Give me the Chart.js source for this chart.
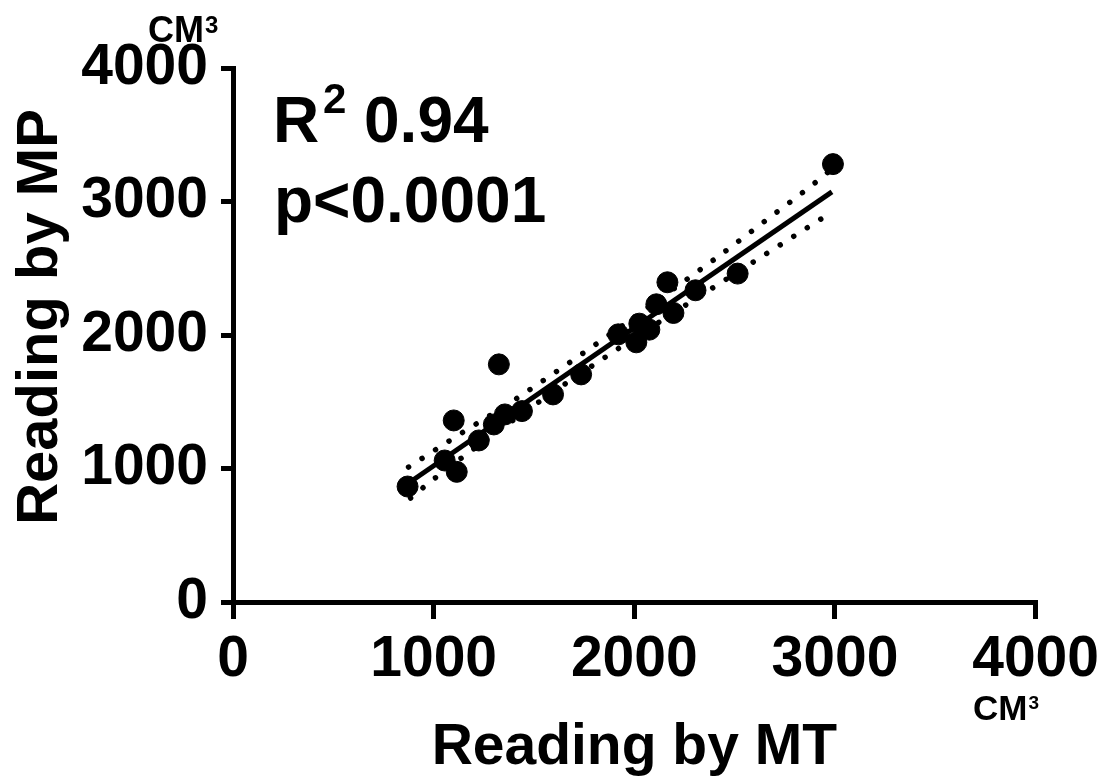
<!DOCTYPE html>
<html>
<head>
<meta charset="utf-8">
<title>Reading by MT vs MP</title>
<script src="https://cdn.jsdelivr.net/npm/chart.js@4.4.0/dist/chart.umd.min.js"></script>
<style>
    html, body { margin: 0; padding: 0; background: #fff; }
    #wrap { width: 1106px; height: 781px; }
</style>
</head>
<body>
<div id="wrap"><canvas id="scatterChart" width="1106" height="781"></canvas></div>
<script>
// Lecturas (cm3)
const readingMT = [870, 1055, 1100, 1115, 1225, 1300, 1325, 1355, 1440, 1595, 1735,
                   1920, 2010, 2025, 2075, 2110, 2165, 2195, 2305, 2515, 2990];
const readingMP = [865, 1060, 1360, 975, 1210, 1330, 1780, 1405, 1430, 1555, 1705,
                   2005, 1945, 2085, 2040, 2230, 2395, 2165, 2335, 2460, 3280];

// Recta de regresion y bandas de confianza (dibujadas en la figura)
const fitMT = [870, 2985];
const fitMP = [886, 3072];
const upperMT = [875, 1140, 1410, 2395, 2645, 2900, 2975];
const upperMP = [1011, 1266, 1521, 2562, 2846, 3139, 3232];
const lowerMT = [885, 995, 1510, 1910, 2585, 2985];
const lowerMP = [779, 914, 1483, 1888, 2539, 2921];

const xTicks = [0, 1000, 2000, 3000, 4000];
const yTicks = [0, 1000, 2000, 3000, 4000];

const FONT = "'Liberation Sans', Arial, Helvetica, sans-serif";

const toPoints = (xs, ys) => xs.map((x, i) => ({ x: x, y: ys[i] }));

// "CM" con el 3 en superindice
function drawUnit(ctx, x, y, size, supSize) {
    ctx.font = `bold ${size}px ${FONT}`;
    ctx.fillText('CM', x, y);
    const w = ctx.measureText('CM').width;
    ctx.font = `bold ${supSize}px ${FONT}`;
    ctx.fillText('3', x + w + 1, y - size * 0.716 + supSize * 0.716);
}

// Textos extra: R2, p, unidades y titulo del eje Y
const annotationPlugin = {
    id: 'annotations',
    afterDraw(chart) {
        const ctx = chart.ctx;
        ctx.save();
        ctx.fillStyle = '#000';
        ctx.textBaseline = 'alphabetic';
        ctx.textAlign = 'left';

        ctx.font = `bold 64px ${FONT}`;
        ctx.fillText('R', 273, 142);
        ctx.fillText('0.94', 364, 142);
        ctx.fillText('p<0.0001', 274, 222);
        ctx.font = `bold 42px ${FONT}`;
        ctx.fillText('2', 323, 113);

        drawUnit(ctx, 148, 42, 36, 24);
        drawUnit(ctx, 973, 720, 35, 19);

        // titulo eje Y
        ctx.translate(57, 317);
        ctx.rotate(-Math.PI / 2);
        ctx.textAlign = 'center';
        ctx.font = `bold 58px ${FONT}`;
        ctx.fillText('Reading by MP', 0, 0);
        ctx.restore();
    }
};

const ctx = document.getElementById('scatterChart').getContext('2d');
const chart = new Chart(ctx, {
    type: 'scatter',
    data: {
        datasets: [
            {
                label: 'Datos',
                data: toPoints(readingMT, readingMP),
                backgroundColor: '#000',
                borderColor: '#000',
                pointRadius: 10.5,
                pointHoverRadius: 10.5
            },
            {
                label: 'Regresion',
                type: 'line',
                data: toPoints(fitMT, fitMP),
                borderColor: '#000',
                borderWidth: 5,
                pointRadius: 0,
                fill: false
            },
            {
                label: 'IC superior',
                type: 'line',
                data: toPoints(upperMT, upperMP),
                borderColor: '#000',
                borderWidth: 5.5,
                borderDash: [0.01, 16],
                borderCapStyle: 'round',
                cubicInterpolationMode: 'monotone',
                pointRadius: 0,
                fill: false
            },
            {
                label: 'IC inferior',
                type: 'line',
                data: toPoints(lowerMT, lowerMP),
                borderColor: '#000',
                borderWidth: 5.5,
                borderDash: [0.01, 16],
                borderCapStyle: 'round',
                cubicInterpolationMode: 'monotone',
                pointRadius: 0,
                fill: false
            }
        ]
    },
    options: {
        responsive: false,
        animation: false,
        devicePixelRatio: 1,
        layout: {
            padding: { top: 68, right: 68, left: 0, bottom: 0 }
        },
        plugins: {
            legend: { display: false },
            tooltip: { enabled: false },
            title: { display: false }
        },
        scales: {
            x: {
                type: 'linear',
                min: 0,
                max: 4000,
                afterBuildTicks: scale => { scale.ticks = xTicks.map(v => ({ value: v })); },
                afterFit: scale => { scale.height = 179; },
                ticks: {
                    color: '#000',
                    padding: 7,
                    maxRotation: 0,
                    font: { family: FONT, size: 57, weight: 'bold' },
                    callback: v => String(v)
                },
                grid: {
                    drawOnChartArea: false,
                    color: '#000',
                    lineWidth: 5,
                    tickLength: 17
                },
                border: { display: true, color: '#000', width: 5 },
                title: {
                    display: true,
                    text: 'Reading by MT',
                    color: '#000',
                    font: { family: FONT, size: 57, weight: 'bold', lineHeight: 1 },
                    padding: { top: 0, bottom: 4 }
                }
            },
            y: {
                type: 'linear',
                min: 0,
                max: 4000,
                afterBuildTicks: scale => { scale.ticks = yTicks.map(v => ({ value: v })); },
                afterFit: scale => { scale.width = 233; },
                ticks: {
                    color: '#000',
                    padding: 13,
                    font: { family: FONT, size: 57, weight: 'bold' },
                    callback: v => String(v)
                },
                grid: {
                    drawOnChartArea: false,
                    color: '#000',
                    lineWidth: 5,
                    tickLength: 12
                },
                border: { display: true, color: '#000', width: 5 }
            }
        }
    },
    plugins: [annotationPlugin]
});
</script>
</body>
</html>
